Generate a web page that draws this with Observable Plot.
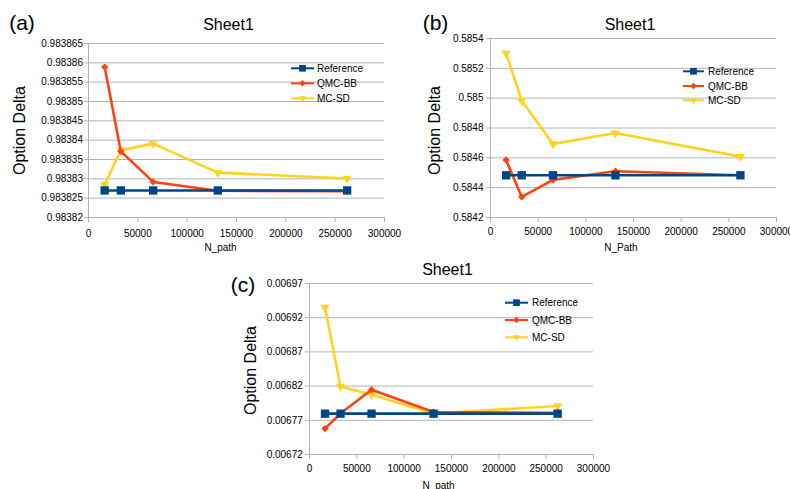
<!DOCTYPE html>
<html>
<head>
<meta charset="utf-8">
<script src="https://cdn.jsdelivr.net/npm/d3@7"></script>
<script src="https://cdn.jsdelivr.net/npm/@observablehq/plot@0.6"></script>
<style>
  html, body { margin: 0; padding: 0; background: #fff; }
  #wrap { position: relative; width: 790px; height: 489px; overflow: hidden; background: #fff;
          font-family: "Liberation Sans", Arial, sans-serif; }
  #wrap > svg { position: absolute; }
</style>
</head>
<body>
<div id="wrap"></div>
<script>
// ---- data ----
const nPath = [16384, 32768, 65536, 131072, 262144];
const seriesNames = ["Reference", "QMC-BB", "MC-SD"];
const xTicks = [0, 50000, 100000, 150000, 200000, 250000, 300000];

// (a)
const refA = [0.983827, 0.983827, 0.983827, 0.983827, 0.983827];
const qmcA = [0.9838589, 0.9838371, 0.9838292, 0.9838269, 0.9838268];
const mcA  = [0.9838285, 0.9838374, 0.9838391, 0.9838316, 0.9838301];
const yTicksA = [0.98382, 0.983825, 0.98383, 0.983835, 0.98384, 0.983845, 0.98385, 0.983855, 0.98386, 0.983865];

// (b)
const refB = [0.584483, 0.584483, 0.584483, 0.584483, 0.584483];
const qmcB = [0.584586, 0.584338, 0.584452, 0.58451, 0.584483];
const mcB  = [0.5853, 0.584983, 0.584693, 0.584766, 0.584608];
const yTicksB = [0.5842, 0.5844, 0.5846, 0.5848, 0.585, 0.5852, 0.5854];

// (c)
const refC = [0.0067797, 0.0067797, 0.0067797, 0.0067797, 0.0067797];
const qmcC = [0.0067579, 0.00678, 0.0068147, 0.0067822, 0.006781];
const mcC  = [0.006935, 0.0068195, 0.0068074, 0.00678, 0.0067909];
const yTicksC = [0.00672, 0.00677, 0.00682, 0.00687, 0.00692, 0.00697];

// ---- styling ----
const colors = {"Reference": "#004586", "QMC-BB": "#ff420e", "MC-SD": "#ffd320"};
const symbols = {"Reference": "square", "QMC-BB": "diamond2", "MC-SD": "triangle2"};
const rotations = {"Reference": 0, "QMC-BB": 0, "MC-SD": 180};
const radii = {"Reference": 4.7, "QMC-BB": 3.3, "MC-SD": 4.4};
const gridColor = "#b3b3b3";

const panels = [
  {letter: "(a)", xLabel: "N_path", ref: refA, qmc: qmcA, mc: mcA, yTicks: yTicksA,
   left: 0, top: 0, width: 395, height: 255, mL: 88, mR: 11, mT: 43, mB: 38, tickPad: 1.5,
   titleDx: -8, titleDy: -19, letterDx: -66.5, letterDy: -20, yLabDx: -69, yLabDy: 0,
   xLabDx: -16, xLabDy: 30, xTickPad: 7,
   legend: {x1: 291, x2: 314, tx: 317, ys: [68.3, 83.3, 98.3]}},
  {letter: "(b)", xLabel: "N_Path", ref: refB, qmc: qmcB, mc: mcB, yTicks: yTicksB,
   left: 395, top: 0, width: 395, height: 255, mL: 95, mR: 14, mT: 38, mB: 38, tickPad: 3,
   titleDx: -3.5, titleDy: -14, letterDx: -55, letterDy: -15.5, yLabDx: -56, yLabDy: 2.5,
   xLabDx: -12.5, xLabDy: 30, xTickPad: 5,
   legend: {x1: 683, x2: 704, tx: 708, ys: [71.3, 86, 100.3]}},
  {letter: "(c)", xLabel: "N_path", ref: refC, qmc: qmcC, mc: mcC, yTicks: yTicksC,
   left: 200, top: 255, width: 400, height: 234, mL: 109, mR: 7, mT: 28, mB: 35, tickPad: 2.7,
   titleDx: -4, titleDy: -14, letterDx: -66.5, letterDy: 2, yLabDx: -59, yLabDy: 1.5,
   xLabDx: -13, xLabDy: 31, xTickPad: 5,
   legend: {x1: 505, x2: 528, tx: 532, ys: [302.7, 320, 337.3]}}
];

const wrap = document.getElementById("wrap");

for (const p of panels) {
  const rows = name => {
    const vals = name === "Reference" ? p.ref : name === "QMC-BB" ? p.qmc : p.mc;
    return nPath.map((x, i) => ({x, y: vals[i], series: name}));
  };
  const drawOrder = ["MC-SD", "QMC-BB", "Reference"];
  const seriesMarks = drawOrder.flatMap(name => [
    Plot.line(rows(name), {x: "x", y: "y", stroke: colors[name], strokeWidth: 2.6, strokeLinejoin: "round"}),
    Plot.dot(rows(name), {x: "x", y: "y", fill: colors[name], stroke: "none",
      symbol: symbols[name], r: radii[name], rotate: rotations[name]})
  ]);
  const yDomain = [p.yTicks[0], p.yTicks[p.yTicks.length - 1]];
  const centered = {textAnchor: "middle", lineAnchor: "middle", fill: "#000"};
  const chart = Plot.plot({
    width: p.width, height: p.height,
    marginLeft: p.mL, marginRight: p.mR, marginTop: p.mT, marginBottom: p.mB,
    style: {fontFamily: "'Liberation Sans', Arial, sans-serif", fontSize: "10px", color: "#000", background: "transparent", overflow: "visible"},
    x: {domain: [0, 300000]},
    y: {domain: yDomain},
    marks: [
      Plot.gridY(p.yTicks, {stroke: gridColor, strokeOpacity: 1, strokeWidth: 1}),
      Plot.ruleX([0], {stroke: gridColor, strokeWidth: 1}),
      Plot.axisY(p.yTicks, {tickSize: 4, tickPadding: p.tickPad, stroke: gridColor, label: null,
        tickFormat: d => String(d), fontSize: 10}),
      Plot.axisX(xTicks, {tickSize: 5, tickPadding: p.xTickPad, stroke: gridColor, label: null,
        tickFormat: d => String(d), fontSize: 10}),
      ...seriesMarks,
      Plot.text(["Sheet1"], {frameAnchor: "top", dx: p.titleDx, dy: p.titleDy, fontSize: 16, ...centered}),
      Plot.text([p.letter], {frameAnchor: "top-left", dx: p.letterDx, dy: p.letterDy, fontSize: 21, ...centered}),
      Plot.text(["Option Delta"], {frameAnchor: "left", rotate: -90, dx: p.yLabDx, dy: p.yLabDy, fontSize: 16, ...centered}),
      Plot.text([p.xLabel], {frameAnchor: "bottom", dx: p.xLabDx, dy: p.xLabDy, fontSize: 10, ...centered})
    ]
  });
  chart.style.left = p.left + "px";
  chart.style.top = p.top + "px";
  wrap.appendChild(chart);

  // legend
  const lg = p.legend;
  const svg = d3.select(wrap).append("svg")
    .attr("width", 790).attr("height", 489)
    .style("left", "0px").style("top", "0px").style("pointer-events", "none");
  const legendSyms = {"Reference": d3.symbolSquare, "QMC-BB": d3.symbolDiamond2, "MC-SD": d3.symbolTriangle2};
  const legendSizes = {"Reference": 45, "QMC-BB": 28, "MC-SD": 34};
  seriesNames.forEach((name, i) => {
    const y = lg.ys[i];
    const g = svg.append("g");
    g.append("line").attr("x1", lg.x1).attr("x2", lg.x2).attr("y1", y).attr("y2", y)
      .attr("stroke", colors[name]).attr("stroke-width", 2);
    g.append("path").attr("d", d3.symbol(legendSyms[name], legendSizes[name])())
      .attr("transform", `translate(${(lg.x1 + lg.x2) / 2},${y}) rotate(${rotations[name]})`)
      .attr("fill", colors[name]);
    g.append("text").attr("x", lg.tx).attr("y", y).attr("dy", "0.35em")
      .attr("font-size", 10).attr("font-family", "'Liberation Sans', Arial, sans-serif")
      .attr("fill", "#000").text(name);
  });
}
</script>
</body>
</html>
